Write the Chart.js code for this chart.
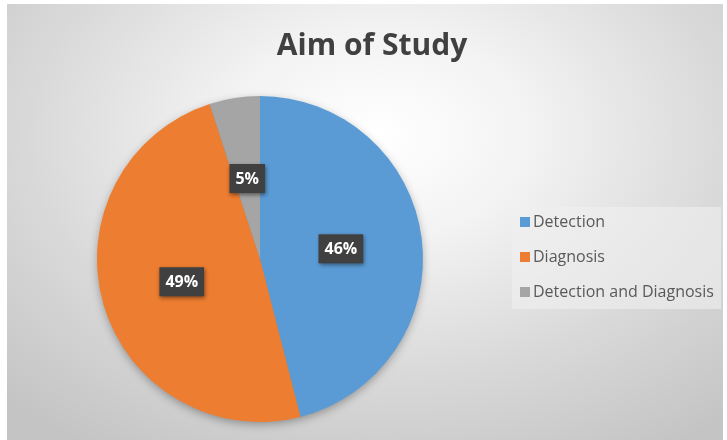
<!DOCTYPE html>
<html>
<head>
<meta charset="utf-8">
<script src="https://cdn.jsdelivr.net/npm/chart.js@4.4.1/dist/chart.umd.min.js"></script>
<style>
  html, body { margin: 0; padding: 0; background: #ffffff; }
  #wrap {
    position: absolute; left: 7px; top: 4px; width: 716px; height: 436px;
    background: radial-gradient(ellipse 75% 85% at 52% 30%, #ffffff 0%, #f3f3f3 28%, #d9d9d9 65%, #c4c4c4 100%);
  }
  #chart { position: absolute; left: -7px; top: -4px; }
</style>
</head>
<body>
<div id="wrap"><canvas id="chart" width="727" height="440"></canvas></div>
<script>
const categories = ["Detection", "Diagnosis", "Detection and Diagnosis"];
const shares = [46, 49, 5];
const sliceColors = ["#5b9bd5", "#ed7d31", "#a5a5a5"];
const chartTitle = "Aim of Study";

// title, shadow under the pie, dark value boxes, legend panel
const decor = {
  id: "decor",
  beforeDatasetsDraw(chart) {
    const arc = chart.getDatasetMeta(0).data[0];
    const ctx = chart.ctx;
    ctx.save();
    ctx.shadowColor = "rgba(0,0,0,0.35)";
    ctx.shadowBlur = 10;
    ctx.shadowOffsetY = 3;
    ctx.fillStyle = "#888";
    ctx.beginPath();
    ctx.arc(arc.x, arc.y, arc.outerRadius - 1, 0, Math.PI * 2);
    ctx.fill();
    ctx.restore();
  },
  afterDatasetsDraw(chart) {
    const ctx = chart.ctx;
    ctx.save();
    ctx.font = "bold 16px 'Open Sans'";
    ctx.textAlign = "center";
    ctx.textBaseline = "middle";
    chart.getDatasetMeta(0).data.forEach((el, i) => {
      const p = el.tooltipPosition();
      const txt = shares[i] + "%";
      const w = ctx.measureText(txt).width + 12;
      const h = 29;
      ctx.shadowColor = "rgba(0,0,0,0.45)";
      ctx.shadowBlur = 4;
      ctx.shadowOffsetX = 1;
      ctx.shadowOffsetY = 2;
      ctx.fillStyle = "#404040";
      ctx.fillRect(p.x - w / 2, p.y - h / 2, w, h);
      ctx.shadowColor = "transparent";
      ctx.fillStyle = "#ffffff";
      ctx.fillText(txt, p.x, p.y + 1);
    });
    ctx.restore();
  },
  afterDraw(chart) {
    const ctx = chart.ctx;
    ctx.save();
    ctx.fillStyle = "#404040";
    ctx.font = "bold 30px 'Open Sans'";
    ctx.textAlign = "center";
    ctx.textBaseline = "alphabetic";
    ctx.fillText(chartTitle, 372, 55);

    // legend
    ctx.fillStyle = "rgba(240,240,240,0.6)";
    ctx.fillRect(512, 207, 209, 102);
    ctx.font = "16px 'Open Sans'";
    ctx.textAlign = "left";
    ctx.textBaseline = "middle";
    categories.forEach((c, i) => {
      const y = 222 + i * 35;
      ctx.fillStyle = sliceColors[i];
      ctx.fillRect(520, y - 5, 10, 10);
      ctx.fillStyle = "#595959";
      ctx.fillText(c, 533, y);
    });
    ctx.restore();
  }
};

new Chart(document.getElementById("chart"), {
  type: "pie",
  data: {
    labels: categories,
    datasets: [{
      data: shares,
      backgroundColor: sliceColors,
      borderWidth: 0
    }]
  },
  options: {
    responsive: false,
    animation: false,
    layout: { padding: { left: 97, right: 304, top: 96, bottom: 18 } },
    plugins: {
      legend: { display: false },
      tooltip: { enabled: false },
      title: { display: false }
    }
  },
  plugins: [decor]
});
</script>
</body>
</html>
